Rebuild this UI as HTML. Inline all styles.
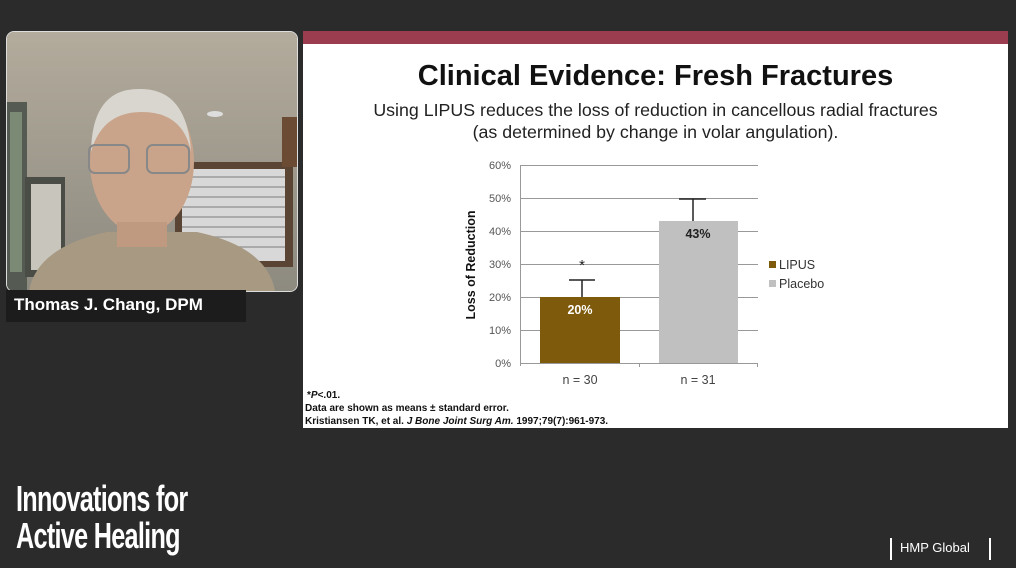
<!DOCTYPE html>
<html><head><meta charset="utf-8"><style>
body{margin:0;width:1016px;height:568px;background:#2b2b2b;position:relative;overflow:hidden;font-family:"Liberation Sans",sans-serif}
.abs{position:absolute}
</style></head><body>
<div class="abs" style="left:6px;top:31px;width:290px;height:259px;border-radius:8px;overflow:hidden;background:#9c978c;border:1px solid #ddd">
<svg width="290" height="259">
<defs><linearGradient id="bg" x1="0" y1="0" x2="0" y2="1"><stop offset="0" stop-color="#b3ab9c"/><stop offset="1" stop-color="#8d8a80"/></linearGradient></defs>
<rect width="290" height="259" fill="url(#bg)"/>
<rect x="0" y="70" width="20" height="190" fill="#555a52"/>
<rect x="3" y="80" width="12" height="160" fill="#7a8a74"/>
<rect x="18" y="145" width="40" height="100" fill="#4a4d45"/>
<rect x="24" y="152" width="30" height="86" fill="#c8c6bc"/>
<rect x="168" y="130" width="118" height="105" fill="#5a4535"/>
<rect x="175" y="137" width="103" height="92" fill="#d8d8d8"/>
<g stroke="#9a9a9a" stroke-width="1.5"><line x1="175" y1="145" x2="278" y2="145"/><line x1="175" y1="155" x2="278" y2="155"/><line x1="175" y1="165" x2="278" y2="165"/><line x1="175" y1="175" x2="278" y2="175"/><line x1="175" y1="185" x2="278" y2="185"/><line x1="175" y1="195" x2="278" y2="195"/><line x1="175" y1="205" x2="278" y2="205"/><line x1="175" y1="215" x2="278" y2="215"/></g>
<rect x="275" y="85" width="15" height="50" fill="#6b4b33"/>
<ellipse cx="208" cy="82" rx="8" ry="3" fill="#ddd"/>
<path d="M22 259 Q30 215 100 200 L190 200 Q260 215 268 259Z" fill="#a89a82"/>
<ellipse cx="135" cy="130" rx="52" ry="72" fill="#c9a48a"/>
<path d="M84 120 Q85 55 135 57 Q180 58 184 120 Q176 80 135 80 Q95 80 84 120Z" fill="#d9d6d0"/>
<rect x="110" y="190" width="50" height="25" fill="#bf9a80"/>
<g fill="none" stroke="#888" stroke-width="2"><rect x="82" y="113" width="40" height="28" rx="6"/><rect x="140" y="113" width="42" height="28" rx="6"/></g>
</svg></div>
<div class="abs" style="left:6px;top:290px;width:240px;height:32px;background:#1c1c1c"></div>
<div class="abs" style="left:14px;top:295px;color:#fff;font-weight:bold;font-size:17px">Thomas J. Chang, DPM</div>
<div class="abs" style="left:303px;top:31px;width:705px;height:397px;background:#fff"></div>
<div class="abs" style="left:303px;top:31px;width:705px;height:13px;background:#9c3d4f"></div>
<div class="abs" style="left:303px;top:60px;width:705px;text-align:center;font-weight:bold;font-size:29px;color:#111">Clinical Evidence: Fresh Fractures</div>
<div class="abs" style="left:303px;top:99px;width:705px;text-align:center;font-size:17.8px;color:#222;line-height:22px">Using LIPUS reduces the loss of reduction in cancellous radial fractures<br>(as determined by change in volar angulation).</div>
<svg class="abs" style="left:0;top:0" width="1016" height="568">
<g stroke="#999" stroke-width="1">
<line x1="520" y1="165.5" x2="758" y2="165.5"/><line x1="520" y1="198.5" x2="758" y2="198.5"/><line x1="520" y1="231.5" x2="758" y2="231.5"/><line x1="520" y1="264.5" x2="758" y2="264.5"/><line x1="520" y1="297.5" x2="758" y2="297.5"/><line x1="520" y1="330.5" x2="758" y2="330.5"/><line x1="520" y1="363.5" x2="758" y2="363.5"/>
<line x1="520.5" y1="165" x2="520.5" y2="366"/><line x1="639.5" y1="363" x2="639.5" y2="367"/><line x1="757.5" y1="363" x2="757.5" y2="367"/>
</g>
<rect x="540" y="297" width="80" height="66" fill="#7e5a0c"/>
<rect x="659" y="221" width="79" height="142" fill="#c0c0c0"/>
<g stroke="#222" stroke-width="1.5"><line x1="582" y1="297" x2="582" y2="280"/><line x1="569" y1="280" x2="595" y2="280"/><line x1="693" y1="221" x2="693" y2="199"/><line x1="679" y1="199" x2="706" y2="199"/></g>
<g font-size="11" fill="#555" text-anchor="end" font-family="Liberation Sans"><text x="511" y="169">60%</text><text x="511" y="202">50%</text><text x="511" y="235">40%</text><text x="511" y="268">30%</text><text x="511" y="301">20%</text><text x="511" y="334">10%</text><text x="511" y="367">0%</text></g>
<text transform="translate(475,265) rotate(-90)" text-anchor="middle" font-size="12.5" font-weight="bold" fill="#111">Loss of Reduction</text>
<text x="580" y="314" text-anchor="middle" font-size="12.5" font-weight="bold" fill="#fff">20%</text>
<text x="698" y="238" text-anchor="middle" font-size="12.5" font-weight="bold" fill="#222">43%</text>
<text x="582" y="270" text-anchor="middle" font-size="15" fill="#222">*</text>
<text x="580" y="384" text-anchor="middle" font-size="12.5" fill="#444">n = 30</text>
<text x="698" y="384" text-anchor="middle" font-size="12.5" fill="#444">n = 31</text>
<rect x="769" y="261" width="7" height="7" fill="#7e5a0c"/><text x="779" y="269" font-size="12.5" fill="#333">LIPUS</text>
<rect x="769" y="280" width="7" height="7" fill="#c0c0c0"/><text x="779" y="288" font-size="12.5" fill="#333">Placebo</text>
<g font-size="10" font-weight="bold" fill="#111"><text x="307" y="398">*<tspan font-style="italic">P</tspan>&lt;.01.</text><text x="305" y="411">Data are shown as means  ± standard error.</text><text x="305" y="424">Kristiansen TK, et al. <tspan font-style="italic">J Bone Joint Surg Am.</tspan> 1997;79(7):961-973.</text></g>
</svg>
<div class="abs" style="left:16px;top:480px;color:#fff;font-weight:bold;font-size:36px;line-height:37px;transform:scaleX(0.7);transform-origin:left top;letter-spacing:-1px;white-space:nowrap">Innovations for<br>Active Healing</div>
<div class="abs" style="left:890px;top:538px;width:2px;height:22px;background:#fff"></div>
<div class="abs" style="left:900px;top:540px;color:#fff;font-size:13px">HMP Global</div>
<div class="abs" style="left:989px;top:538px;width:2px;height:22px;background:#fff"></div>
</body></html>
